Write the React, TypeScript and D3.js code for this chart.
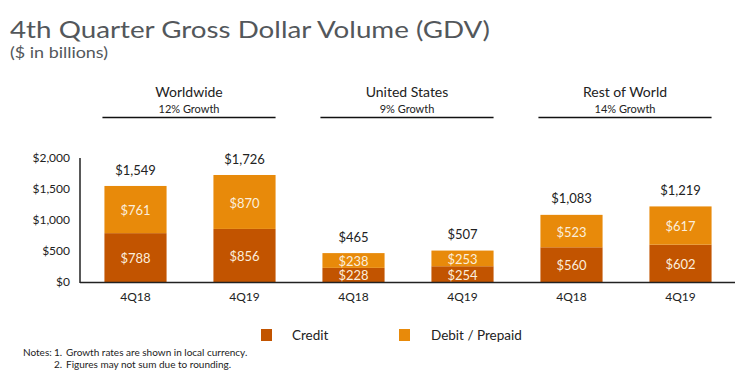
import React from "react";
import * as d3 from "d3";

const categories = ["4Q18", "4Q19", "4Q18", "4Q19", "4Q18", "4Q19"];
const credit = [788, 856, 228, 254, 560, 602];
const debit = [761, 870, 238, 253, 523, 617];
const totals = [1549, 1726, 465, 507, 1083, 1219];
const groups = ["Worldwide", "United States", "Rest of World"];
const growth = ["12% Growth", "9% Growth", "14% Growth"];
const yTicks = [0, 500, 1000, 1500, 2000];
const seriesNames = ["Credit", "Debit / Prepaid"];
const noteNums = ["1.", "2."];
const notes = ["Growth rates are shown in local currency.", "Figures may not sum due to rounding."];

const W = 740, H = 376;
const CREDIT = "#c25400";
const DEBIT = "#e88a0a";
const FONT = "Lato, 'Open Sans', sans-serif";

export default function App() {
  const idx = categories.map((_, i) => i);
  const x = d3.scaleBand<number>().domain(idx).range([81, 735]).paddingInner(0.43).paddingOuter(0.215);
  const y = d3.scaleLinear().domain([0, 2000]).range([282, 158]);
  const fmt = (v: number) => "$" + d3.format(",")(v);
  const bw = x.bandwidth();

  return (
    <svg width={W} height={H} style={{ position: "absolute", left: 0, top: 0, background: "#fff" }} fontFamily={FONT}>
      <text x={10} y={38} fontSize={24} fill="#53575b" textLength={480} lengthAdjust="spacingAndGlyphs">4th Quarter Gross Dollar Volume (GDV)</text>
      <text x={10} y={58} fontSize={15.5} fill="#53575b" textLength={98} lengthAdjust="spacingAndGlyphs">($ in billions)</text>

      {groups.map((g, gi) => {
        const x0 = (x(gi * 2) as number) - 2;
        const x1 = (x(gi * 2 + 1) as number) + bw;
        const cx = (x0 + x1) / 2;
        return (
          <g key={g}>
            <text x={cx} y={97} fontSize={14} textAnchor="middle" fill="#222">{g}</text>
            <text x={cx} y={113} fontSize={11} textAnchor="middle" fill="#222">{growth[gi]}</text>
            <line x1={x0} x2={x1} y1={117.5} y2={117.5} stroke="#111" strokeWidth={1.5} />
          </g>
        );
      })}

      {yTicks.map((t) => (
        <text key={t} x={70} y={y(t)} dy="0.35em" fontSize={12} textAnchor="end" fill="#222">{fmt(t)}</text>
      ))}

      {idx.map((i) => {
        const bx = x(i) as number;
        const cx = bx + bw / 2;
        const yc = y(credit[i]);
        const yt = y(credit[i] + debit[i]);
        return (
          <g key={i}>
            <rect x={bx} y={yc} width={bw} height={y(0) - yc} fill={CREDIT} />
            <rect x={bx} y={yt} width={bw} height={yc - yt} fill={DEBIT} />
            <text x={cx} y={(yc + y(0)) / 2 + 1} dy="0.35em" fontSize={13} textAnchor="middle" fill="#fbeedd">{fmt(credit[i])}</text>
            <text x={cx} y={(yt + yc) / 2 + 1} dy="0.35em" fontSize={13} textAnchor="middle" fill="#fbeedd">{fmt(debit[i])}</text>
            <text x={cx} y={y(totals[i]) - 16} dy="0.35em" fontSize={13} textAnchor="middle" fill="#222">{fmt(totals[i])}</text>
            <text x={cx} y={297} dy="0.35em" fontSize={12} textAnchor="middle" fill="#222">{categories[i]}</text>
          </g>
        );
      })}

      <line x1={80} x2={80} y1={158} y2={283} stroke="#222" strokeWidth={1.5} />
      <line x1={80} x2={735} y1={282.5} y2={282.5} stroke="#222" strokeWidth={1.5} />

      {seriesNames.map((s, i) => (
        <g key={s}>
          <rect x={261 + i * 138} y={329} width={11} height={12} fill={i === 0 ? CREDIT : DEBIT} />
          <text x={292 + i * 139} y={335.5} dy="0.35em" fontSize={13.5} fill="#222">{s}</text>
        </g>
      ))}

      <text x={23} y={352} dy="0.35em" fontSize={10} fill="#222">Notes:</text>
      {notes.map((n, i) => (
        <g key={i}>
          <text x={54} y={352 + i * 12} dy="0.35em" fontSize={10} fill="#222">{noteNums[i]}</text>
          <text x={66} y={352 + i * 12} dy="0.35em" fontSize={10} fill="#222">{n}</text>
        </g>
      ))}
    </svg>
  );
}
